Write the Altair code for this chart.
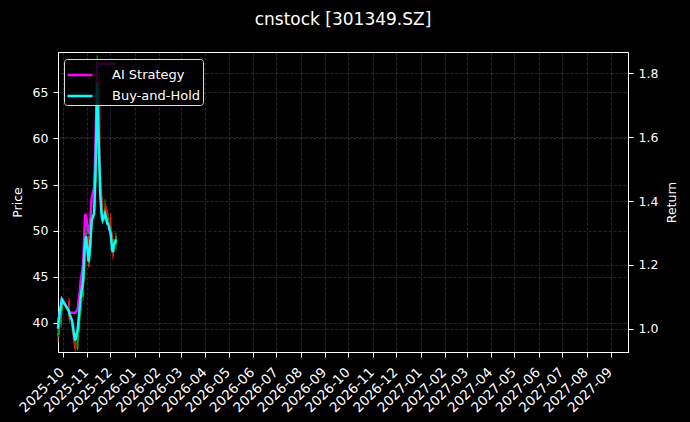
import altair as alt
import pandas as pd

dates = [
    "2025-09-25", "2025-09-26", "2025-09-29", "2025-09-30",
    "2025-10-09", "2025-10-10", "2025-10-13", "2025-10-14", "2025-10-15", "2025-10-16", "2025-10-17",
    "2025-10-20", "2025-10-21", "2025-10-22", "2025-10-23", "2025-10-24",
    "2025-10-27", "2025-10-28", "2025-10-29", "2025-10-30", "2025-10-31",
    "2025-11-03", "2025-11-04", "2025-11-05", "2025-11-06", "2025-11-07",
    "2025-11-10", "2025-11-11", "2025-11-12", "2025-11-13", "2025-11-14",
    "2025-11-17", "2025-11-18", "2025-11-19", "2025-11-20", "2025-11-21",
    "2025-11-24", "2025-11-25", "2025-11-26", "2025-11-27", "2025-11-28",
    "2025-12-01", "2025-12-02", "2025-12-03", "2025-12-04", "2025-12-05", "2025-12-08",
]
opens = [
    38.9, 38.7, 39.9, 41.3,
    42.4, 40.8, 40.2, 39.7, 39.1, 38.3, 37.9,
    37.2, 38.5, 39.3, 40.7, 41.3,
    42.8, 44.6, 46.0, 48.6, 49.6,
    49.2, 46.5, 47.6, 48.5, 50.3,
    51.9, 52.6, 55.2, 58.3, 62.8,
    66.5, 57.4, 54.5, 53.6, 52.3,
    51.6, 52.7, 52.0, 51.9, 51.1,
    51.5, 50.0, 49.6, 48.1, 47.7, 48.5,
]
highs = [
    39.3, 40.2, 41.9, 42.6,
    42.7, 41.2, 40.5, 39.9, 39.4, 38.6, 38.2,
    38.7, 39.6, 40.9, 41.8, 42.9,
    44.8, 46.7, 48.7, 49.9, 50.6,
    49.5, 47.9, 49.0, 50.6, 52.2,
    53.1, 55.3, 58.4, 63.2, 69.0,
    67.2, 58.1, 55.2, 54.2, 52.9,
    53.4, 53.0, 52.4, 52.3, 51.9,
    51.9, 50.5, 49.9, 48.6, 49.1, 49.8,
]
lows = [
    37.9, 38.4, 39.5, 41.0,
    40.4, 39.9, 39.1, 38.6, 37.8, 37.3, 36.9,
    37.0, 38.1, 39.0, 40.2, 41.0,
    42.4, 44.1, 45.6, 47.8, 48.9,
    46.0, 46.1, 47.2, 48.1, 49.7,
    51.2, 52.1, 54.6, 57.6, 62.0,
    57.2, 54.0, 52.7, 51.4, 51.0,
    51.1, 51.4, 51.0, 50.6, 50.6,
    49.6, 48.8, 47.6, 46.9, 47.2, 48.0,
]
closes = [
    38.60, 39.76, 41.50, 42.15,
    40.72, 40.34, 39.57, 38.99, 38.21, 37.64, 37.17,
    38.41, 39.37, 40.53, 41.50, 42.46,
    44.39, 46.32, 48.25, 49.41, 49.79,
    46.71, 47.48, 48.64, 50.18, 51.72,
    52.50, 54.81, 57.90, 62.53, 68.32,
    57.90, 54.81, 53.27, 52.11, 51.72,
    52.50, 52.11, 51.72, 51.34, 51.34,
    50.18, 49.41, 48.25, 47.86, 48.64, 49.41,
]
ai_strategy = [
    1.000, 1.030, 1.075, 1.092,
    1.055, 1.050, 1.050, 1.050, 1.050, 1.050, 1.050,
    1.060, 1.080, 1.100, 1.120, 1.150,
    1.200, 1.260, 1.320, 1.360, 1.350,
    1.300, 1.300, 1.330, 1.370, 1.410,
    1.440, 1.500, 1.590, 1.700, 1.830,
    1.830, 1.830, 1.830, 1.830, 1.830,
    1.830, 1.830, 1.830, 1.830, 1.830,
    1.830, 1.830, 1.830, 1.830, 1.830, 1.830,
]
buy_and_hold = [
    1.000, 1.030, 1.075, 1.092,
    1.055, 1.045, 1.025, 1.010, 0.990, 0.975, 0.963,
    0.995, 1.020, 1.050, 1.075, 1.100,
    1.150, 1.200, 1.250, 1.280, 1.290,
    1.210, 1.230, 1.260, 1.300, 1.340,
    1.360, 1.420, 1.500, 1.620, 1.770,
    1.500, 1.420, 1.380, 1.350, 1.340,
    1.360, 1.350, 1.340, 1.330, 1.330,
    1.300, 1.280, 1.250, 1.240, 1.260, 1.280,
]
series_names = ["AI Strategy", "Buy-and-Hold"]
series_colors = ["#ff00ff", "#00ffff"]
price_ticks = [40, 45, 50, 55, 60, 65]
return_ticks = [1.0, 1.2, 1.4, 1.6, 1.8]
price_domain = [36.85, 69.37]
return_domain = [0.927, 1.867]

candles = pd.DataFrame({"date": dates, "open": opens, "high": highs,
                        "low": lows, "close": closes})
lines = pd.concat([
    pd.DataFrame({"date": dates, "value": ai_strategy, "series": series_names[0]}),
    pd.DataFrame({"date": dates, "value": buy_and_hold, "series": series_names[1]}),
])

FONT = "DejaVu Sans"

x_scale = alt.Scale(type="utc", domain=[
    alt.DateTime(year=2025, month=9, date=25, utc=True),
    alt.DateTime(year=2027, month=9, date=23, utc=True)])
x_enc = alt.X("date:T", scale=x_scale,
              axis=alt.Axis(title=None, format="%Y-%m",
                            tickCount={"interval": "month", "step": 1},
                            labelAngle=-45, labelAlign="right", labelBaseline="top",
                            labelPadding=8, labelOffset=-6, labelOverlap=False,
                            labelFontSize=13.5, grid=True))

up_down = alt.condition("datum.close >= datum.open", alt.value("#16a016"), alt.value("#e8160c"))
price_scale = alt.Scale(domain=price_domain, nice=False, zero=False)

wicks = alt.Chart(candles).mark_rule(strokeWidth=1).encode(
    x=x_enc,
    y=alt.Y("low:Q", scale=price_scale,
            axis=alt.Axis(title="Price", values=price_ticks, orient="left",
                          grid=True, labelPadding=5, titlePadding=8)),
    y2="high:Q",
    color=up_down,
)
bodies = alt.Chart(candles).mark_rule(strokeWidth=2).encode(
    x=x_enc,
    y=alt.Y("open:Q", scale=price_scale),
    y2="close:Q",
    color=up_down,
)
candle_layer = alt.layer(wicks, bodies)

color_enc = alt.Color("series:N",
                      scale=alt.Scale(domain=series_names, range=series_colors),
                      legend=alt.Legend(orient="none", legendX=6, legendY=7, title=None,
                                        symbolType="stroke", symbolSize=625,
                                        symbolStrokeWidth=2.5, labelFontSize=13,
                                        labelColor="white", labelFont=FONT,
                                        fillColor="rgba(0,0,0,0.82)", strokeColor="#dddddd",
                                        cornerRadius=3, padding=2, rowPadding=0,
                                        labelOffset=18))
return_y = alt.Y("value:Q", scale=alt.Scale(domain=return_domain, nice=False, zero=False),
                 axis=alt.Axis(title="Return", values=return_ticks, format=".1f",
                               orient="right", grid=True, labelPadding=5,
                               titlePadding=21, titleAngle=270))

ai_line = alt.Chart(lines).transform_filter(
    alt.datum.series == series_names[0]
).mark_line(strokeWidth=2.5).encode(x=x_enc, y=return_y, color=color_enc)
bh_line = alt.Chart(lines).transform_filter(
    alt.datum.series == series_names[1]
).mark_line(strokeWidth=2.5).encode(x=x_enc, y=return_y, color=color_enc)
line_layer = alt.layer(ai_line, bh_line)

chart = alt.layer(candle_layer, line_layer).resolve_scale(
    y="independent"
).properties(
    width=570, height=300,
    title=alt.TitleParams("cnstock [301349.SZ]", fontSize=17, color="white",
                          font=FONT, fontWeight="normal", anchor="middle", offset=23),
    autosize=alt.AutoSizeParams(type="none"),
    padding={"left": 50, "top": 44, "right": 54, "bottom": 62},
).configure(
    background="black",
).configure_view(
    stroke="white", strokeWidth=1,
).configure_axis(
    labelFont=FONT, labelFontSize=12.5, labelColor="white",
    titleFont=FONT, titleFontSize=12.5, titleColor="white", titleFontWeight="normal",
    tickColor="white", tickSize=5, domainColor="white", domainWidth=1,
    gridColor="#808080", gridOpacity=0.5, gridDash=[3, 2], gridWidth=0.6,
)

chart.save("out.html", embed_options={"renderer": "svg", "actions": False})

with open("out.html", encoding="utf-8") as f:
    page = f.read()
page = page.replace("<body>", '<body style="background-color:#000000;">', 1)
with open("out.html", "w", encoding="utf-8") as f:
    f.write(page)
